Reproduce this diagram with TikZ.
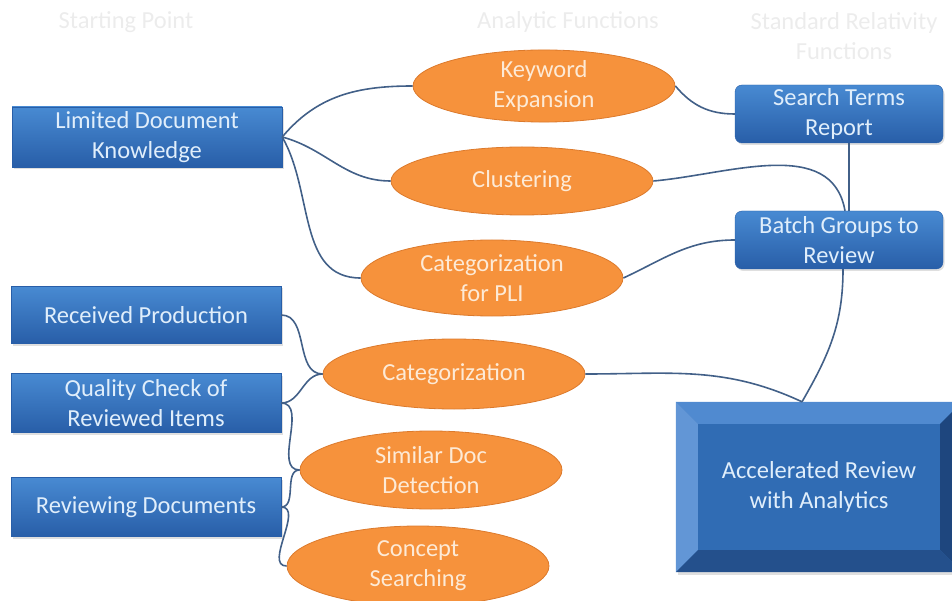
\documentclass[tikz,border=0pt]{standalone}
\usepackage{fontspec}
\setmainfont{Carlito}
\usetikzlibrary{shapes.geometric,shadows}

\definecolor{boxhi}{RGB}{72,138,210}
\definecolor{boxlo}{RGB}{40,94,168}
\definecolor{boxink}{RGB}{224,238,251}
\definecolor{funfill}{RGB}{246,146,60}
\definecolor{funedge}{RGB}{220,122,44}
\definecolor{funink}{RGB}{253,234,214}
\definecolor{linkcol}{RGB}{66,96,136}
\definecolor{headink}{RGB}{236,236,236}
\definecolor{face}{RGB}{48,108,180}
\definecolor{bevtop}{RGB}{80,138,208}
\definecolor{bevleft}{RGB}{98,150,214}
\definecolor{bevright}{RGB}{30,70,126}
\definecolor{bevbot}{RGB}{36,80,140}

\begin{document}
\begin{tikzpicture}[x=1pt,y=1pt,
  every node/.style={font=\fontsize{24.5}{30}\selectfont, align=center},
  srcbox/.style={rectangle, minimum width=270pt, minimum height=59pt,
    top color=boxhi, bottom color=boxlo, draw=boxlo, text=boxink,
    drop shadow={opacity=0.25, shadow xshift=1.5pt, shadow yshift=-2pt}},
  outbox/.style={srcbox, rounded corners=7pt, minimum width=208pt, minimum height=58pt},
  func/.style={ellipse, inner sep=0pt, minimum width=262pt, fill=funfill,
    draw=funedge, line width=0.8pt, text=funink},
  head/.style={text=headink},
  link/.style={draw=linkcol, line width=1.6pt},
]
\def\bv{22}
\useasboundingbox (0,0) rectangle (952,-601);

% column headings
\node[head] (h1) at (126,-22) {Starting Point};
\node[head] (h2) at (568,-22) {Analytic Functions};
\node[head] (h3) at (844,-36) {Standard Relativity\\Functions};

% starting points
\node[srcbox, minimum height=60pt] (ldk) at (147,-137) {Limited Document\\Knowledge};
\node[srcbox, minimum height=57pt] (rcv) at (146,-315) {Received Production};
\node[srcbox] (qc) at (146,-403) {Quality Check of\\Reviewed Items};
\node[srcbox] (rvw) at (146,-507) {Reviewing Documents};

% analytic functions
\node[func, minimum height=66pt] (kw) at (544,-86) {Keyword\\Expansion};
\node[func, minimum height=68pt] (clu) at (522,-181) {Clustering};
\node[func, minimum height=76pt] (cpl) at (492,-278) {Categorization\\for PLI};
\node[func, minimum height=70pt] (cat) at (454,-374) {Categorization};
\node[func, minimum height=78pt] (sim) at (431,-470) {Similar Doc\\Detection};
\node[func, minimum height=80pt] (con) at (418,-566) {Concept\\Searching};

% standard functions
\node[outbox] (str) at (839,-114) {Search Terms\\Report};
\node[outbox] (bgr) at (839,-240) {Batch Groups to\\Review};

% bevelled result box
\node[rectangle, minimum width=286pt, minimum height=170pt, fill=face, text=boxink,
  drop shadow={opacity=0.25, shadow xshift=1.5pt, shadow yshift=-2.5pt}] (acc) at (819,-487)
  {Accelerated Review\\with Analytics};
\fill[bevtop] (acc.north west) -- (acc.north east) -- ([shift={(-\bv,-\bv)}]acc.north east)
  -- ([shift={(\bv,-\bv)}]acc.north west) -- cycle;
\fill[bevleft] (acc.north west) -- ([shift={(\bv,-\bv)}]acc.north west)
  -- ([shift={(\bv,\bv)}]acc.south west) -- (acc.south west) -- cycle;
\fill[bevright] (acc.north east) -- ([shift={(-\bv,-\bv)}]acc.north east)
  -- ([shift={(-\bv,\bv)}]acc.south east) -- (acc.south east) -- cycle;
\fill[bevbot] (acc.south west) -- ([shift={(\bv,\bv)}]acc.south west)
  -- ([shift={(-\bv,\bv)}]acc.south east) -- (acc.south east) -- cycle;

% links
\draw[link] (ldk.east) to[out=50,in=180] (kw.west);
\draw[link] (ldk.east) to[out=-15,in=180] (clu.west);
\draw[link] (ldk.east) to[out=-60,in=180] (cpl.west);
\draw[link] (kw.east) to[out=-50,in=180] (str.west);
\draw[link] (clu.east) to[out=5,in=100] ([xshift=6pt]bgr.north);
\draw[link] ([xshift=10pt]str.south) -- ([xshift=10pt]bgr.north);
\draw[link] (cpl.east) to[out=25,in=180] (bgr.west);
\draw[link] ([xshift=4pt]bgr.south) to[out=-90,in=60] ([xshift=-17pt]acc.north);
\draw[link] (cat.east) to[out=0,in=155] ([xshift=-17pt]acc.north);
\draw[link] (rcv.east) to[out=0,in=180] (cat.west);
\draw[link] (qc.east) to[out=0,in=180] (cat.west);
\draw[link] (qc.east) to[out=0,in=180] (sim.west);
\draw[link] (rvw.east) to[out=0,in=180] (sim.west);
\draw[link] (rvw.east) to[out=0,in=180] (con.west);
\end{tikzpicture}
\end{document}
